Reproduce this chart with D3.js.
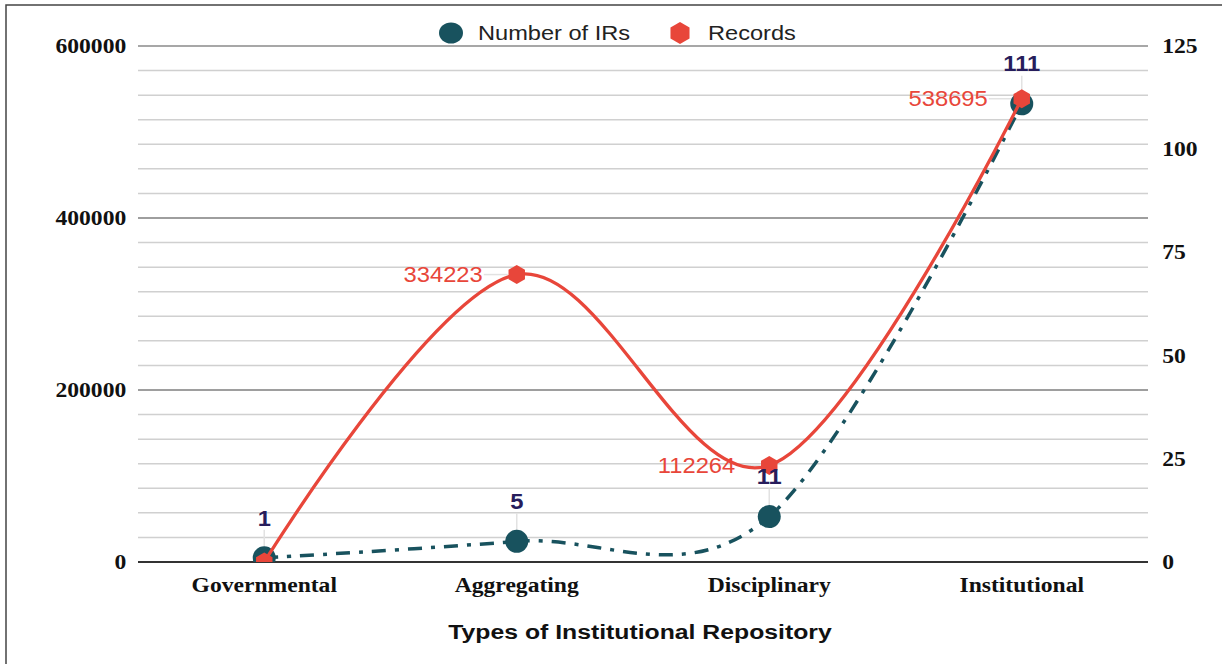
<!DOCTYPE html>
<html>
<head>
<meta charset="utf-8">
<script src="https://cdn.jsdelivr.net/npm/d3@7"></script>
<style>
  body { margin: 0; background: #fff; }
  svg { display: block; }
</style>
</head>
<body>
<div id="chart"></div>
<script>
// data
const categories = ["Governmental", "Aggregating", "Disciplinary", "Institutional"];
const numberOfIRs = [1, 5, 11, 111];
const records = [0, 334223, 112264, 538695];
const leftTicks = [0, 200000, 400000, 600000];
const rightTicks = [0, 25, 50, 75, 100, 125];

const width = 1222, height = 664;
const plot = { left: 138, right: 1148, top: 46, bottom: 562 };
const teal = "#18525e", red = "#e8463a", navy = "#271d5c";
const stretch = 1.18; // the picture is a bit wide

const svg = d3.select("#chart").append("svg")
    .attr("width", width)
    .attr("height", height)
    .attr("viewBox", `0 0 ${width} ${height}`);

// frame (only top and left edges are visible)
svg.append("rect")
    .attr("x", 6).attr("y", 5)
    .attr("width", width + 20).attr("height", height + 20)
    .attr("fill", "none")
    .attr("stroke", "#444")
    .attr("stroke-width", 1.5);

const x = d3.scaleBand()
    .domain(categories)
    .range([plot.left, plot.right]);

const yL = d3.scaleLinear().domain([0, 600000]).range([plot.bottom, plot.top]);
const yR = d3.scaleLinear().domain([0, 125]).range([plot.bottom, plot.top]);

const cx = d => x(d) + x.bandwidth() / 2;

// grid: 7 minor steps between major left ticks
const minorStep = 200000 / 7;
const gridVals = d3.range(0, 21).map(i => i * minorStep);
svg.append("g").selectAll("line")
    .data(gridVals)
    .enter().append("line")
    .attr("x1", plot.left).attr("x2", plot.right)
    .attr("y1", d => yL(d)).attr("y2", d => yL(d))
    .attr("stroke", "#d0d0d0")
    .attr("stroke-width", 1.5);
svg.append("g").selectAll("line")
    .data(leftTicks.slice(1))
    .enter().append("line")
    .attr("x1", plot.left).attr("x2", plot.right)
    .attr("y1", d => yL(d)).attr("y2", d => yL(d))
    .attr("stroke", "#8a8a8a")
    .attr("stroke-width", 1.5);
svg.append("line")
    .attr("x1", plot.left).attr("x2", plot.right)
    .attr("y1", yL(0)).attr("y2", yL(0))
    .attr("stroke", "#333")
    .attr("stroke-width", 2);

// axes
const serif = "'Liberation Serif', 'Times New Roman', serif";
const sans = "'Liberation Sans', Arial, sans-serif";

const leftAxis = svg.append("g")
    .attr("transform", `translate(${plot.left},0)`)
    .call(d3.axisLeft(yL).tickValues(leftTicks).tickSize(0).tickPadding(10).tickFormat(d3.format("d")));
const rightAxis = svg.append("g")
    .attr("transform", `translate(${plot.right},0)`)
    .call(d3.axisRight(yR).tickValues(rightTicks).tickSize(0).tickPadding(12));
const bottomAxis = svg.append("g")
    .attr("transform", `translate(0,${plot.bottom})`)
    .call(d3.axisBottom(x).tickSize(0).tickPadding(16));

[leftAxis, rightAxis, bottomAxis].forEach(a => {
    a.select(".domain").remove();
    a.selectAll("text")
        .attr("fill", "#111")
        .style("font-family", serif)
        .style("font-weight", "bold")
        .style("font-size", "20px")
        .attr("transform", `scale(${stretch},1)`);
});
bottomAxis.selectAll(".tick text").attr("x", 0);

// axis title
svg.append("text")
    .attr("transform", `translate(640,632) scale(${stretch},1)`)
    .attr("text-anchor", "middle")
    .attr("dominant-baseline", "central")
    .style("font-family", sans)
    .style("font-weight", "bold")
    .style("font-size", "21px")
    .attr("fill", "#111")
    .text("Types of Institutional Repository");

// clip marks to the plot area
svg.append("clipPath").attr("id", "plotClip")
    .append("rect")
    .attr("x", 0).attr("y", 0)
    .attr("width", width).attr("height", plot.bottom);
const marks = svg.append("g").attr("clip-path", "url(#plotClip)");

const irPts = categories.map((c, i) => [cx(c), yR(numberOfIRs[i])]);
const recPts = categories.map((c, i) => [cx(c), yL(records[i])]);
const line = d3.line().curve(d3.curveCardinal.tension(0));

const hexagon = r => d3.range(6).map(k => {
    const a = (-90 + 60 * k) * Math.PI / 180;
    return [r * Math.cos(a), r * Math.sin(a)];
});
const hexPath = r => "M" + hexagon(r).join("L") + "Z";

// leader lines for labels
const leaders = svg.insert("g", "g[clip-path]");
irPts.forEach(p => {
    leaders.append("line")
        .attr("x1", p[0]).attr("x2", p[0])
        .attr("y1", p[1] - 28).attr("y2", p[1] - 11)
        .attr("stroke", "#e2e2e2").attr("stroke-width", 1.5);
});
recPts.forEach((p, i) => {
    if (!records[i]) return;
    leaders.append("line")
        .attr("x1", p[0] - 33).attr("x2", p[0] - 9)
        .attr("y1", p[1]).attr("y2", p[1])
        .attr("stroke", "#e2e2e2").attr("stroke-width", 1.5);
});

marks.append("path")
    .attr("d", line(irPts))
    .attr("fill", "none")
    .attr("stroke", teal)
    .attr("stroke-width", 3.5)
    .attr("stroke-dasharray", "14,9,4,9");

marks.selectAll(".ir-dot")
    .data(irPts)
    .enter().append("circle")
    .attr("class", "ir-dot")
    .attr("cx", d => d[0]).attr("cy", d => d[1])
    .attr("r", 11.5)
    .attr("fill", teal);

marks.append("path")
    .attr("d", line(recPts))
    .attr("fill", "none")
    .attr("stroke", red)
    .attr("stroke-width", 3.3);

marks.selectAll(".rec-dot")
    .data(recPts)
    .enter().append("path")
    .attr("class", "rec-dot")
    .attr("transform", d => `translate(${d[0]},${d[1]})`)
    .attr("d", hexPath(9.5))
    .attr("fill", red);

// data labels
svg.append("g").selectAll("text")
    .data(irPts)
    .enter().append("text")
    .attr("transform", d => `translate(${d[0]},${d[1] - 40}) scale(1.08,1)`)
    .attr("text-anchor", "middle")
    .attr("dominant-baseline", "central")
    .style("font-family", sans)
    .style("font-weight", "bold")
    .style("font-size", "22px")
    .attr("fill", navy)
    .text((d, i) => numberOfIRs[i]);

svg.append("g").selectAll("text")
    .data(recPts.filter((d, i) => records[i]))
    .enter().append("text")
    .attr("transform", d => `translate(${d[0] - 34},${d[1]}) scale(1.08,1)`)
    .attr("text-anchor", "end")
    .attr("dominant-baseline", "central")
    .style("font-family", sans)
    .style("font-size", "22px")
    .attr("fill", red)
    .text(d => records[recPts.indexOf(d)]);

// legend
const legend = svg.append("g").attr("transform", "translate(0,33)");
legend.append("ellipse")
    .attr("cx", 451).attr("cy", 0)
    .attr("rx", 12).attr("ry", 10.5)
    .attr("fill", teal);
legend.append("text")
    .attr("transform", `translate(478,0) scale(${stretch},1)`)
    .attr("dominant-baseline", "central")
    .style("font-family", sans)
    .style("font-size", "20px")
    .attr("fill", "#222")
    .text("Number of IRs");
legend.append("path")
    .attr("transform", "translate(680,0)")
    .attr("d", hexPath(11))
    .attr("fill", red);
legend.append("text")
    .attr("transform", `translate(708,0) scale(${stretch},1)`)
    .attr("dominant-baseline", "central")
    .style("font-family", sans)
    .style("font-size", "20px")
    .attr("fill", "#222")
    .text("Records");
</script>
</body>
</html>
